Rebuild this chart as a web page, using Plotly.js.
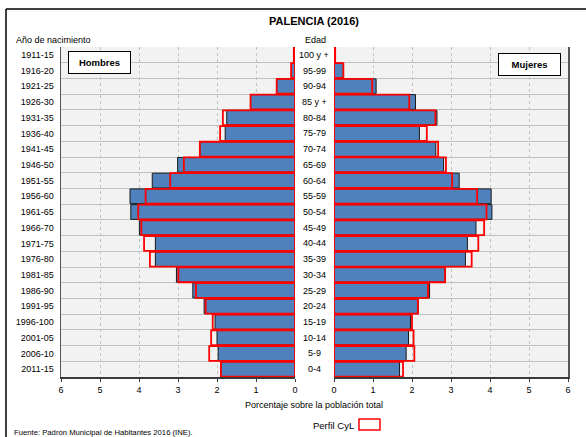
<!DOCTYPE html>
<html>
<head>
<meta charset="utf-8">
<script src="https://cdn.plot.ly/plotly-3.0.1.min.js"></script>
<style>html,body{margin:0;padding:0;background:#fff;}#chart{width:586px;height:437px;}</style>
</head>
<body>
<div id="chart"></div>
<script>
// Data
const birthYears = ["1911-15","1916-20","1921-25","1926-30","1931-35","1936-40","1941-45","1946-50","1951-55","1956-60","1961-65","1966-70","1971-75","1976-80","1981-85","1986-90","1991-95","1996-100","2001-05","2006-10","2011-15"];
const ages = ["100 y +","95-99","90-94","85 y +","80-84","75-79","70-74","65-69","60-64","55-59","50-54","45-49","40-44","35-39","30-34","25-29","20-24","15-19","10-14","5-9","0-4"];
const menPalencia = [0.03,0.09,0.47,1.14,1.75,1.79,2.44,3.01,3.66,4.23,4.21,3.99,3.58,3.58,3.04,2.62,2.33,2.05,2.00,1.97,1.90];
const menCyL      = [0.03,0.10,0.47,1.14,1.85,1.92,2.44,2.85,3.20,3.83,4.02,3.94,3.87,3.72,2.99,2.54,2.29,2.11,2.15,2.20,1.90];
const womenPalencia = [0.03,0.24,1.08,2.09,2.64,2.19,2.61,2.81,3.21,4.03,4.05,3.64,3.42,3.37,2.85,2.45,2.16,1.96,1.91,1.85,1.68];
const womenCyL      = [0.03,0.24,0.98,1.93,2.60,2.38,2.67,2.87,3.03,3.67,3.91,3.85,3.70,3.53,2.85,2.41,2.15,2.00,2.04,2.06,1.77];
const xTicks = [0,1,2,3,4,5,6];

const W = 586, H = 437;
const px = v => v / W;
const py = v => 1 - v / H;
const idx = birthYears.map((_, i) => i);

const BLUE = '#4f81bd';
const RED = '#ff0000';

const traces = [
  {type:'bar', orientation:'h', x: menPalencia, y: idx, xaxis:'x', yaxis:'y',
   marker:{color:BLUE, line:{color:'#1a1a1a', width:1}}, showlegend:false, hoverinfo:'x'},
  {type:'bar', orientation:'h', x: menCyL, y: idx, xaxis:'x', yaxis:'y',
   marker:{color:'rgba(0,0,0,0)', line:{color:RED, width:1.8}}, showlegend:false, hoverinfo:'x'},
  {type:'bar', orientation:'h', x: womenPalencia, y: idx, xaxis:'x2', yaxis:'y2',
   marker:{color:BLUE, line:{color:'#1a1a1a', width:1}}, showlegend:false, hoverinfo:'x'},
  {type:'bar', orientation:'h', x: womenCyL, y: idx, xaxis:'x2', yaxis:'y2',
   marker:{color:'rgba(0,0,0,0)', line:{color:RED, width:1.8}}, showlegend:false, hoverinfo:'x'}
];

const yDomain = [py(377), py(47)];
const commonX = {
  tickvals: xTicks, ticktext: xTicks.map(String),
  tickfont:{family:'Liberation Sans, Arial, sans-serif', size:9, color:'#000'},
  showgrid:true, gridcolor:'#c4c4c4', griddash:'dot', gridwidth:1,
  zeroline:false, showline:true, linecolor:'#3a3a3a', linewidth:2,
  ticks:'outside', ticklen:3, tickcolor:'#3a3a3a', fixedrange:true
};
const commonY = {
  domain: yDomain, range:[20.5,-0.5], tickvals: idx, showgrid:false, zeroline:false,
  showline:true, linecolor:'#555', linewidth:1.5,
  minor:{tick0:-0.5, dtick:1, showgrid:true, gridcolor:'#c0c0c0', gridwidth:1, ticks:''},
  fixedrange:true
};

const annotations = [];
ages.forEach((a, i) => annotations.push({
  xref:'paper', yref:'y', x: px(314), y: i, text: a, showarrow:false,
  xanchor:'center', yanchor:'middle',
  font:{family:'Liberation Sans, Arial, sans-serif', size:9, color:'#000'}
}));
annotations.push(
  {xref:'paper', yref:'paper', x: px(14), y: py(40), text:'Año de nacimiento', showarrow:false,
   xanchor:'left', yanchor:'middle', font:{family:'Liberation Sans, Arial, sans-serif', size:9, color:'#000'}},
  {xref:'paper', yref:'paper', x: px(303), y: py(40), text:'Edad', showarrow:false,
   xanchor:'left', yanchor:'middle', font:{family:'Liberation Sans, Arial, sans-serif', size:9, color:'#000'}},
  {xref:'paper', yref:'paper', x: px(99.5), y: py(63), text:'<b>Hombres</b>', showarrow:false,
   xanchor:'center', yanchor:'middle', bgcolor:'#fff', bordercolor:'#000', borderwidth:1, borderpad:2,
   width:57, height:17, font:{family:'Liberation Sans, Arial, sans-serif', size:9.5, color:'#000'}},
  {xref:'paper', yref:'paper', x: px(529), y: py(64.5), text:'<b>Mujeres</b>', showarrow:false,
   xanchor:'center', yanchor:'middle', bgcolor:'#fff', bordercolor:'#000', borderwidth:1, borderpad:2,
   width:57, height:17, font:{family:'Liberation Sans, Arial, sans-serif', size:9.5, color:'#000'}},
  {xref:'paper', yref:'paper', x: px(314), y: py(405), text:'Porcentaje sobre la población total', showarrow:false,
   xanchor:'center', yanchor:'middle', font:{family:'Liberation Sans, Arial, sans-serif', size:9, color:'#000'}},
  {xref:'paper', yref:'paper', x: px(12), y: py(432), text:'Fuente: Padrón Municipal de Habitantes 2016 (INE).', showarrow:false,
   xanchor:'left', yanchor:'middle', font:{family:'Liberation Sans, Arial, sans-serif', size:7.7, color:'#000'}},
  {xref:'paper', yref:'paper', x: px(356), y: py(425), text:'Perfil CyL', showarrow:false,
   xanchor:'right', yanchor:'middle', font:{family:'Liberation Sans, Arial, sans-serif', size:9.5, color:'#000'}}
);

const layout = {
  width: W, height: H,
  margin:{l:0, r:0, t:0, b:0, pad:0},
  paper_bgcolor:'#fff', plot_bgcolor:'#f2f2f2',
  barmode:'overlay', bargap:0.06,
  showlegend:false,
  title:{text:'<b>PALENCIA (2016)</b>', x: px(314), xanchor:'center', y: py(21), yanchor:'middle',
         font:{family:'Liberation Sans, Arial, sans-serif', size:11, color:'#000'}},
  xaxis: Object.assign({}, commonX, {domain:[px(61), px(295)], range:[6,0], anchor:'y'}),
  xaxis2: Object.assign({}, commonX, {domain:[px(334), px(568)], range:[0,6], anchor:'y2'}),
  yaxis: Object.assign({}, commonY, {anchor:'x', side:'left', ticktext: birthYears, ticks:'',
         ticklabelstandoff:4,
         tickfont:{family:'Liberation Sans, Arial, sans-serif', size:9, color:'#000'}}),
  yaxis2: Object.assign({}, commonY, {anchor:'x2', side:'right', showticklabels:false, ticks:''}),
  annotations: annotations,
  shapes: [
    {type:'line', xref:'paper', yref:'paper', x0: px(6), x1: 1.01, y0: py(9), y1: py(9), line:{color:'#000', width:1.5}},
    {type:'line', xref:'paper', yref:'paper', x0: px(6), x1: px(6), y0: py(9), y1: -0.01, line:{color:'#000', width:1.5}},
    {type:'rect', xref:'paper', yref:'paper', x0: px(359), x1: px(380), y0: py(430), y1: py(419), line:{color:RED, width:1.5}, fillcolor:'rgba(0,0,0,0)'}
  ]
};

Plotly.newPlot('chart', traces, layout, {displayModeBar:false, staticPlot:true});
</script>
</body>
</html>
